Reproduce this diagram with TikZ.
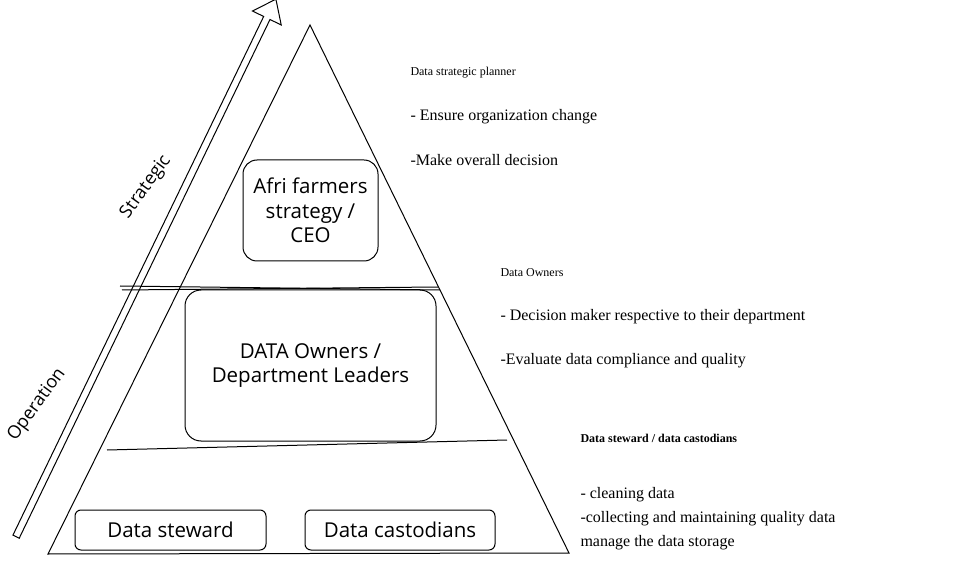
\documentclass[tikz,border=0pt]{standalone}
\usepackage{fontspec}
\setmainfont{Liberation Serif}
\newfontfamily\sketchfont{Open Sans}
\usetikzlibrary{shapes.arrows}

\begin{document}
\begin{tikzpicture}[x=1pt, y=-1pt, line width=1pt,
  caja/.style={draw, rounded corners=10pt, align=center, inner sep=0pt, font=\sketchfont\fontsize{20.5}{24.5}\selectfont},
  nota/.style={anchor=west, inner sep=0pt, font=\fontsize{16}{19}\selectfont},
  titulo/.style={anchor=west, inner sep=0pt, font=\fontsize{12}{14}\selectfont},
  eje/.style={rotate=54, font=\sketchfont\fontsize{18}{22}\selectfont}]
\useasboundingbox (0,0) rectangle (956,561);
% Piramide
\coordinate (apex) at (310,25);
\coordinate (baseL) at (48,554);
\coordinate (baseR) at (569,553);
\draw (apex) -- (baseR) -- (baseL) -- cycle;
% Divisiones
\coordinate (d1L) at (120,286);
\coordinate (d1R) at (440,290);
\coordinate (d1l) at (122,290);
\coordinate (d1r) at (438,287);
\coordinate (d2L) at (107,450);
\coordinate (d2R) at (507,440);
\draw (d1L) -- (d1R);
\draw (d1l) -- (d1r);
\draw (d2L) -- (d2R);
% Flecha
\node[draw, single arrow, minimum height=597pt, inner xsep=0pt, inner ysep=3pt,
  single arrow head extend=12.5pt, single arrow tip angle=75, rotate=64.2] (flecha) at (145,270) {};
\node[eje] (strategic) at (146,187) {Strategic};
\node[eje] (operation) at (37,405) {Operation};
% Cajas
\node[caja, minimum width=135pt, minimum height=101pt, rounded corners=14pt] (ceo) at (310.5,210.5) {Afri farmers\\strategy /\\CEO};
\node[caja, minimum width=251pt, minimum height=151pt, rounded corners=16pt] (owners) at (310.5,365.5) {DATA Owners /\\Department Leaders};
\node[caja, minimum width=191pt, minimum height=40pt, rounded corners=6pt] (steward) at (170.5,530) {Data steward};
\node[caja, minimum width=190pt, minimum height=40pt, rounded corners=6pt] (castod) at (400,530) {Data castodians};
% Textos
\node[titulo] (t1) at (410,73) {Data strategic planner};
\node[nota] (t1a) at (410,117) {- Ensure organization change};
\node[nota] (t1b) at (410,160) {-Make overall decision};
\node[titulo] (t2) at (500,273) {Data Owners};
\node[nota] (t2a) at (500,317) {- Decision maker respective to their department};
\node[nota] (t2b) at (500,361) {-Evaluate data compliance and quality};
\node[titulo, font=\bfseries\fontsize{12}{14}\selectfont] (t3) at (580,438) {Data steward / data castodians};
\node[nota] (t3a) at (580,495) {- cleaning data};
\node[nota] (t3b) at (580,519) {-collecting and maintaining quality data};
\node[nota] (t3c) at (580,543) {manage the data storage};
\end{tikzpicture}
\end{document}
